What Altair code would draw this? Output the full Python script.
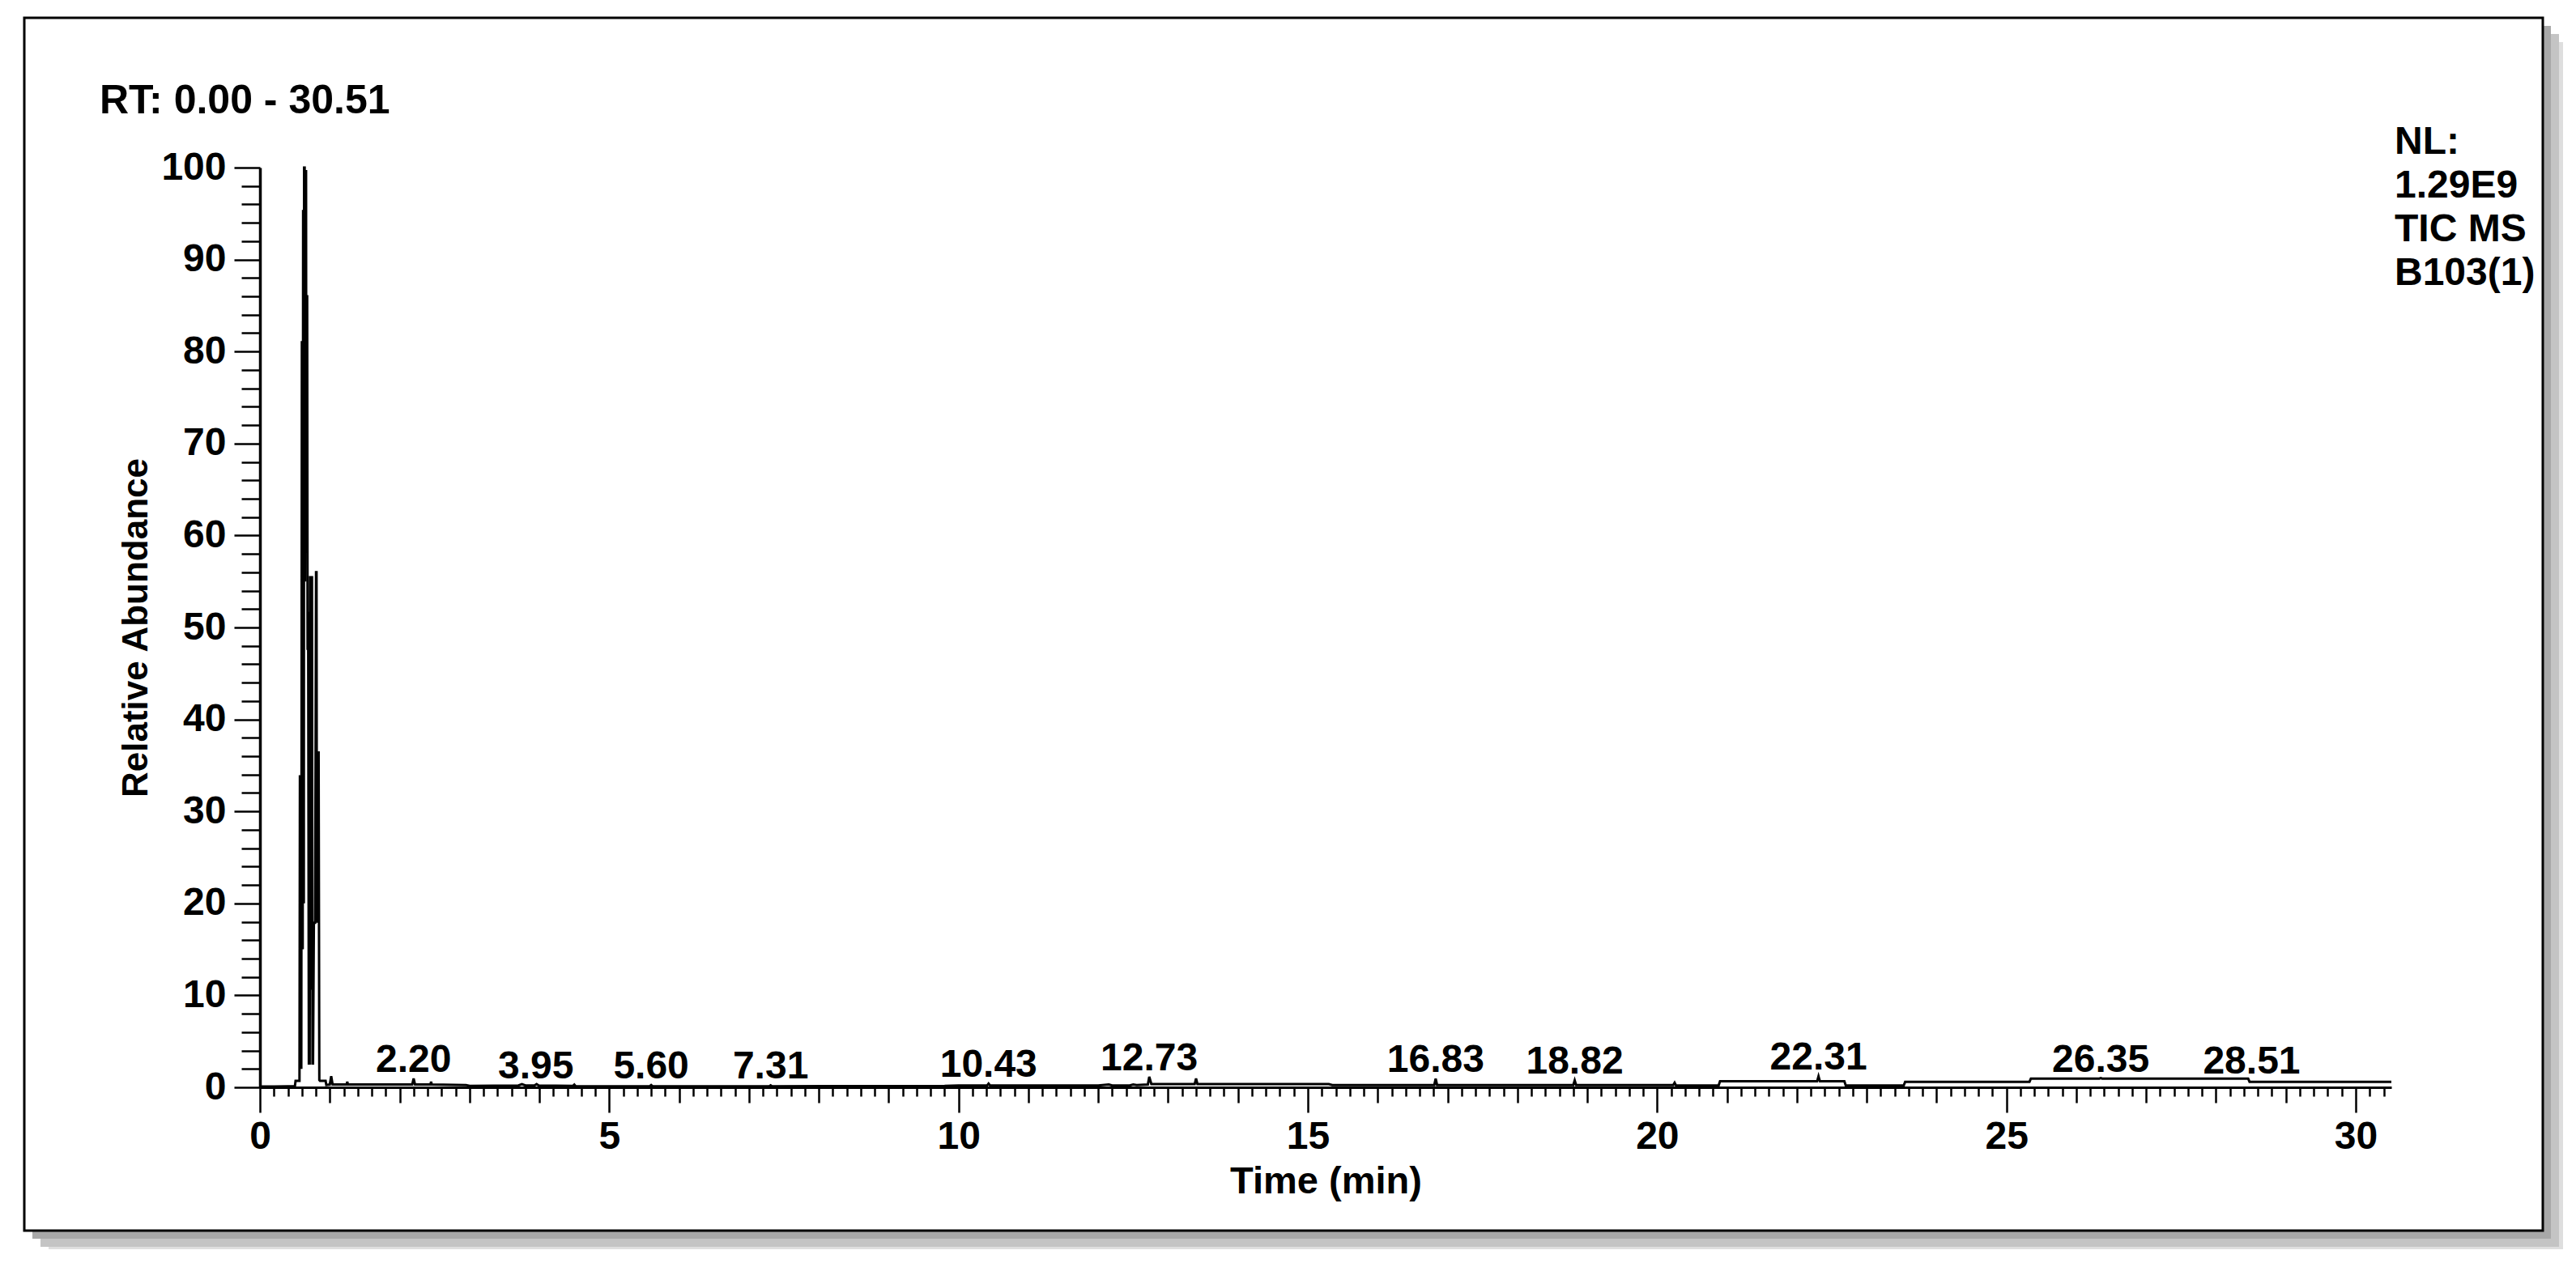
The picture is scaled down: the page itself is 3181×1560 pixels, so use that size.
import altair as alt
import pandas as pd

# ---- trace (retention time in min, relative abundance in %) ----
rt_min = [
    0.00, 0.20, 0.40, 0.50, 0.51, 0.566,
    0.572, 0.588, 0.592, 0.600, 0.606, 0.612, 0.618, 0.628, 0.632, 0.640,
    0.645, 0.650, 0.660, 0.664, 0.668, 0.676, 0.682, 0.688, 0.690, 0.700,
    0.712, 0.718, 0.724, 0.732, 0.738, 0.745, 0.752, 0.760, 0.772, 0.790,
    0.803, 0.810, 0.815, 0.823, 0.840, 0.850,
    0.86, 0.94, 0.95, 1.00, 1.02, 1.04, 1.24, 1.25, 1.26, 2.18, 2.20, 2.22,
    2.44, 2.45, 2.46, 2.95, 3.00, 3.70, 3.75, 3.80, 3.93, 3.96, 3.99,
    4.48, 4.50, 4.52, 5.58, 5.60, 5.62, 7.29, 7.31, 7.33, 9.80, 10.00,
    10.41, 10.43, 10.45, 12.00, 12.15, 12.20, 12.45, 12.50, 12.55, 12.71,
    12.73, 12.76, 13.38, 13.40, 13.42, 15.30, 15.35, 16.81, 16.83, 16.85,
    18.80, 18.82, 18.84, 20.23, 20.25, 20.27, 20.88, 20.90, 22.29, 22.31,
    22.33, 22.68, 22.70, 23.53, 23.55, 25.33, 25.35, 26.33, 26.35, 26.37,
    28.46, 28.48, 30.51,
]
abundance = [
    0.08, 0.08, 0.10, 0.10, 0.70, 0.70,
    33.8, 33.8, 2.0, 81.0, 81.0, 15.0, 95.4, 20.0, 100.0, 100.0,
    55.0, 99.6, 99.6, 60.0, 86.0, 86.0, 47.7, 47.7, 51.7, 2.6,
    2.6, 55.6, 10.6, 55.6, 10.6, 55.6, 2.6, 2.6, 17.9, 17.9,
    56.0, 56.0, 17.9, 36.4, 36.4, 0.8,
    0.70, 0.70, 0.25, 0.30, 1.20, 0.30, 0.30, 0.60, 0.30, 0.30, 0.95, 0.30,
    0.30, 0.60, 0.30, 0.25, 0.15, 0.20, 0.35, 0.20, 0.20, 0.35, 0.20,
    0.15, 0.30, 0.12, 0.12, 0.25, 0.12, 0.12, 0.22, 0.12, 0.15, 0.20,
    0.20, 0.40, 0.20, 0.20, 0.30, 0.20, 0.20, 0.30, 0.25, 0.30,
    1.15, 0.35, 0.35, 0.95, 0.35, 0.35, 0.25, 0.25, 0.95, 0.25,
    0.25, 0.75, 0.25, 0.25, 0.50, 0.20, 0.20, 0.65, 0.65, 1.20,
    0.65, 0.65, 0.20, 0.20, 0.60, 0.60, 0.95, 0.95, 1.00, 0.95,
    0.95, 0.60, 0.60,
]

# ---- peak annotations ----
peak_rt = [2.20, 3.95, 5.60, 7.31, 10.43, 12.73, 16.83, 18.82, 22.31, 26.35, 28.51]
peak_height = [0.95, 0.30, 0.30, 0.30, 0.45, 1.15, 0.95, 0.75, 1.20, 0.95, 0.80]
peak_label = ["2.20", "3.95", "5.60", "7.31", "10.43", "12.73", "16.83", "18.82",
              "22.31", "26.35", "28.51"]

# ---- axis ticks and texts ----
x_ticks = [round(i * 0.2, 1) for i in range(153)]
y_ticks = list(range(0, 101, 2))
range_text = "RT: 0.00 - 30.51"
info_lines = ["NL:", "1.29E9", "TIC MS", "B103(1)"]
x_title = "Time (min)"
y_title = "Relative Abundance"

FONT = "Liberation Sans"
W, H = 2632, 1136

trace = pd.DataFrame({"t": rt_min, "v": abundance})
peaks = pd.DataFrame({"t": peak_rt, "v": peak_height, "label": peak_label})
one = pd.DataFrame({"k": [0]})

x_axis = alt.Axis(
    values=x_ticks,
    tickCount=1000,
    title=x_title,
    labelExpr="datum.value % 5 === 0 ? '' + datum.value : ''",
    tickSize={"condition": [{"test": "datum.value % 5 === 0", "value": 31},
                            {"test": "datum.value % 1 === 0", "value": 19}],
              "value": 11},
    labelOverlap=False, labelFlush=False, grid=False, zindex=1,
    labelFont=FONT, labelFontSize=48, labelFontWeight="bold", labelColor="black",
    labelPadding=6,
    titleFont=FONT, titleFontSize=47, titleFontWeight="bold", titleColor="black",
    titlePadding=8,
    domainColor="black", domainWidth=3, tickColor="black", tickWidth=2.5,
)
y_axis = alt.Axis(
    values=y_ticks,
    tickCount=1000,
    title=y_title,
    labelExpr="datum.value % 10 === 0 ? '' + datum.value : ''",
    tickSize={"condition": {"test": "datum.value % 10 === 0", "value": 32},
              "value": 23},
    labelOverlap=False, labelFlush=False, grid=False, zindex=1,
    labelFont=FONT, labelFontSize=48, labelFontWeight="bold", labelColor="black",
    labelPadding=10,
    titleFont=FONT, titleFontSize=44, titleFontWeight="bold", titleColor="black",
    titlePadding=8,
    domainColor="black", domainWidth=3.5, tickColor="black", tickWidth=2.5,
)

# frame with drop shadow (pixel positions relative to the plot origin)
FX0, FX1, FY0, FY1 = -291, 2819, -185, 1313
layers = []
for d, col in [(40, "#f2f2f2"), (30, "#dedede"), (20, "#c4c4c4"), (10, "#a8a8a8")]:
    layers.append(
        alt.Chart(one).mark_rect(color=col).encode(
            x=alt.value(FX0 + d), x2=alt.value(FX1 + d),
            y=alt.value(FY0 + d), y2=alt.value(FY1 + d))
    )
layers.append(
    alt.Chart(one).mark_rect(fill="white", stroke="black", strokeWidth=3).encode(
        x=alt.value(FX0), x2=alt.value(FX1), y=alt.value(FY0), y2=alt.value(FY1))
)

line = alt.Chart(trace).mark_line(color="black", strokeWidth=3).encode(
    x=alt.X("t:Q", scale=alt.Scale(domain=[0, 30.51], nice=False, zero=False), axis=x_axis),
    y=alt.Y("v:Q", scale=alt.Scale(domain=[0, 100], nice=False), axis=y_axis),
)
layers.append(line)

labels = alt.Chart(peaks).mark_text(
    font=FONT, fontSize=48, fontWeight="bold", color="black",
    baseline="alphabetic", align="center", dy=-8,
).encode(x="t:Q", y="v:Q", text="label:N")
layers.append(labels)

rt_text = alt.Chart(one).mark_text(
    font=FONT, fontSize=50, fontWeight="bold", color="black",
    baseline="alphabetic", align="left",
).encode(x=alt.value(-198), y=alt.value(-67), text=alt.value(range_text))
layers.append(rt_text)

info_text = alt.Chart(one).mark_text(
    font=FONT, fontSize=48, fontWeight="bold", color="black",
    baseline="alphabetic", align="left", lineHeight=54,
).encode(x=alt.value(2636), y=alt.value(-17), text=alt.value(info_lines))
layers.append(info_text)

chart = alt.layer(*layers).properties(
    width=W, height=H,
    autosize=alt.AutoSizeParams(type="none"),
    padding={"left": 313, "top": 199, "right": 212, "bottom": 200},
    background="white",
).configure_view(stroke=None)

chart.save("out.html", embed_options={"renderer": "svg", "actions": False})
